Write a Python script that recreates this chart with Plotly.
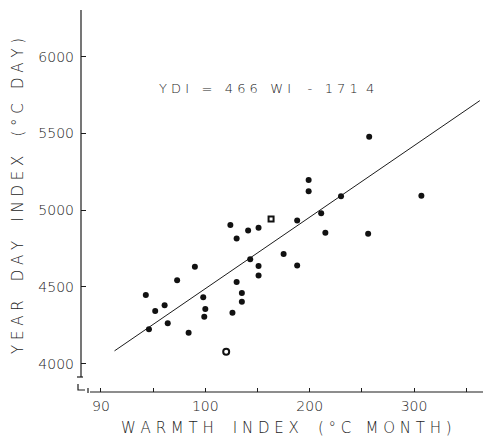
import plotly.graph_objects as go

# ---------------- data ----------------
wi_filled = [94.3, 94.6, 95.2, 96.1, 96.4, 97.3, 98.4, 99.0, 99.8, 100.0, 99.9,
             102.4, 103.0, 102.6, 103.0, 103.5, 103.5, 104.3, 104.1, 105.1, 105.1,
             105.1, 107.5, 108.8, 108.8, 109.9, 109.9, 111.1, 111.5, 113.0, 115.6,
             115.7, 120.7, 126.9]
ydi_filled = [4447, 4224, 4343, 4380, 4263, 4543, 4201, 4632, 4433, 4356, 4306,
              4904, 4816, 4332, 4532, 4460, 4403, 4680, 4868, 4886, 4636,
              4574, 4714, 4640, 4933, 5197, 5124, 4980, 4853, 5091, 4847,
              5479, 5095, 5684]
wi_open_circle = [102.0]
ydi_open_circle = [4078]
wi_open_square = [106.3]
ydi_open_square = [4943]

slope = 46.6
intercept = -171.4
fit_wi = [91.3, 126.3]

x_tickvals = [90, 100, 110, 120]
x_ticktext = ["90", "100", "200", "300"]
x_minor = [95, 105, 115, 125]
y_tickvals = [4000, 4500, 5000, 5500, 6000]
y_ticktext = ["4000", "4500", "5000", "5500", "6000"]

NB = "\u00a0"
x_title = f"W A R M T H{NB*3} I N D E X{NB*3} ( ° C{NB*2} M O N T H )"
y_title = f"Y E A R{NB*3} D A Y{NB*3} I N D E X{NB*3} ( ° C{NB*2} D A Y )"
eq_text = (f"Y D I{NB*3}={NB*3}4 6 6{NB*3}W I{NB*4}-{NB*3}1 7 1{NB*2}4")

# ---------------- layout geometry (reference pixel coords) ----------------
OFF = 8                     # page body margin of the html page
W, H = 491 - OFF, 442 - OFF
PL, PR, PT, PB = 81, 491, 10, 392   # plot box in reference pixels
PW, PH = PR - PL, PB - PT

def px_x(px):
    return (px - PL) / PW

def px_y(py):
    return (PB - py) / PH

INK = "#1c1c1c"
FONT = "DejaVu Sans"

fig = go.Figure()

fit_ydi = [slope * w + intercept for w in fit_wi]
fig.add_trace(go.Scatter(x=fit_wi, y=fit_ydi, mode="lines",
                         line=dict(color=INK, width=1), hoverinfo="skip"))
fig.add_trace(go.Scatter(x=wi_filled, y=ydi_filled, mode="markers",
                         marker=dict(symbol="circle", size=6, color="#111",
                                     line=dict(width=0))))
fig.add_trace(go.Scatter(x=wi_open_circle, y=ydi_open_circle, mode="markers",
                         marker=dict(symbol="circle-open", size=6, color="#111",
                                     line=dict(width=2))))
fig.add_trace(go.Scatter(x=wi_open_square, y=ydi_open_square, mode="markers",
                         marker=dict(symbol="square-open", size=5, color="#111",
                                     line=dict(width=2))))

shapes = [
    dict(type="line", xref="paper", yref="paper", x0=px_x(81), x1=px_x(81),
         y0=px_y(10), y1=px_y(377), line=dict(color=INK, width=1.2)),
    dict(type="line", xref="paper", yref="paper", x0=px_x(77), x1=px_x(83),
         y0=px_y(377), y1=px_y(377), line=dict(color=INK, width=1.2)),
    dict(type="line", xref="paper", yref="paper", x0=px_x(90), x1=px_x(491),
         y0=px_y(392), y1=px_y(392), line=dict(color=INK, width=1.2)),
    dict(type="path", xref="paper", yref="paper",
         path=(f"M {px_x(78)},{px_y(384)} L {px_x(78)},{px_y(390)} "
               f"L {px_x(85)},{px_y(390)}"),
         line=dict(color=INK, width=1.2)),
    dict(type="line", xref="paper", yref="paper", x0=px_x(88), x1=px_x(88),
         y0=px_y(388), y1=px_y(393), line=dict(color=INK, width=1.2)),
]

TXT = dict(family=FONT, color=INK, weight=300)
annotations = [
    dict(text=y_title, xref="paper", yref="paper", x=px_x(18), y=px_y(196),
         textangle=-90, showarrow=False, xanchor="center", yanchor="middle",
         font=dict(size=15, **TXT)),
    dict(text=x_title, xref="paper", yref="paper", x=px_x(286), y=px_y(428),
         showarrow=False, xanchor="center", yanchor="middle",
         font=dict(size=15, **TXT)),
    dict(text=eq_text, xref="paper", yref="paper", x=px_x(266), y=px_y(88),
         showarrow=False, xanchor="center", yanchor="middle",
         font=dict(size=13, **TXT)),
]

fig.update_layout(
    width=W, height=H,
    margin=dict(l=PL - OFF, r=W - (PR - OFF), t=PT - OFF, b=H - (PB - OFF), pad=0),
    paper_bgcolor="white", plot_bgcolor="white",
    showlegend=False,
    shapes=shapes,
    annotations=annotations,
    xaxis=dict(range=[88.09, 127.37], showgrid=False, zeroline=False,
               showline=False, tickmode="array", tickvals=x_tickvals,
               ticktext=x_ticktext, ticks="inside", ticklen=4, tickwidth=1,
               tickcolor=INK, ticklabelstandoff=4,
               minor=dict(tickmode="array", tickvals=x_minor, ticks="inside",
                          ticklen=4, tickwidth=1, tickcolor=INK, showgrid=False),
               tickfont=dict(size=14, **TXT)),
    yaxis=dict(range=[3815, 6305], showgrid=False, zeroline=False,
               showline=False, tickmode="array", tickvals=y_tickvals,
               ticktext=y_ticktext, ticks="inside", ticklen=5, tickwidth=1,
               tickcolor=INK, ticklabelstandoff=6,
               tickfont=dict(size=14, **TXT)),
)

fig.write_html("out.html")
